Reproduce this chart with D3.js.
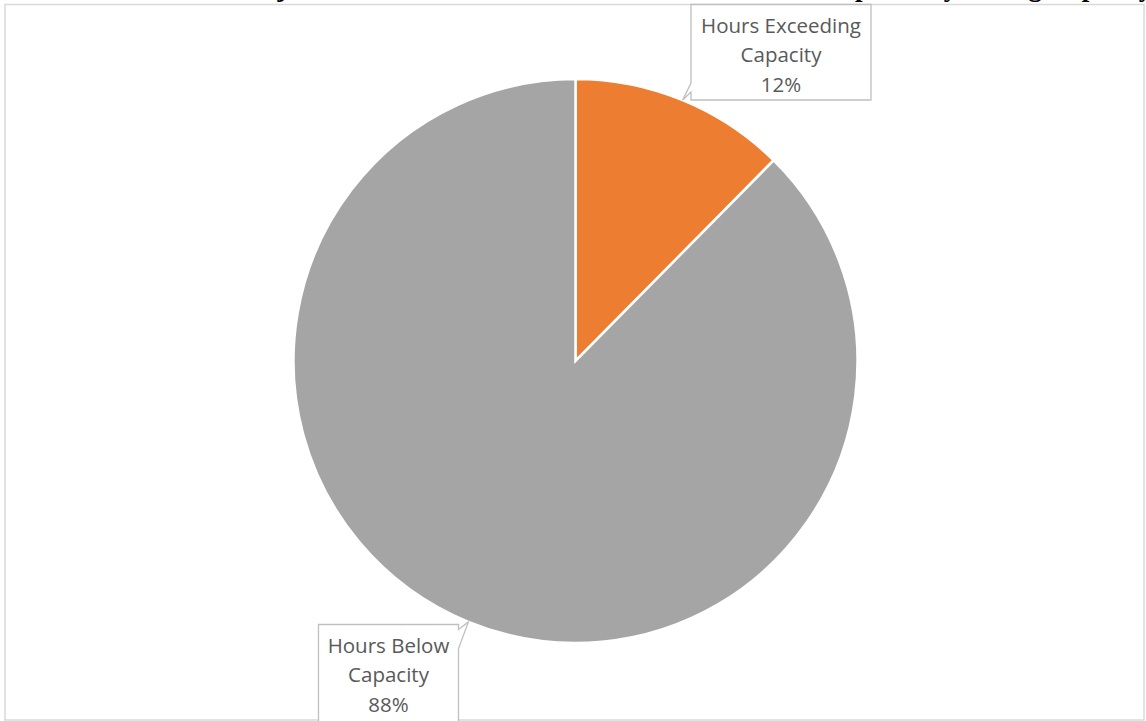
<!DOCTYPE html>
<html>
<head>
<meta charset="utf-8">
<script src="https://cdn.jsdelivr.net/npm/d3@7"></script>
<style>
    html, body { margin: 0; padding: 0; background: #ffffff; overflow: hidden; }
</style>
</head>
<body>
<script>
// 数据
const categories = ['Hours Exceeding Capacity', 'Hours Below Capacity'];
const shares = [0.124, 0.876];
const labelNames = [['Hours Exceeding', 'Capacity'], ['Hours Below', 'Capacity']];
const sliceColors = ['#ED7D31', '#A5A5A5'];
const titleText = 'Share of Hours Projected Demand Exceeds the Counted Volume Compared by Rating Capacity';

const svgWidth = 1146, svgHeight = 721;
const cx = 575.5, cy = 361, radius = 282;

const svg = d3.select('body')
    .append('svg')
    .attr('width', svgWidth)
    .attr('height', svgHeight);

// 标题（被图框上沿截掉，只露出下伸部分）
const title = svg.append('text')
    .attr('x', 0)
    .attr('y', -4)
    .style('font-family', '"Liberation Serif", "Times New Roman", serif')
    .style('font-weight', 'bold')
    .style('font-size', '27px')
    .style('fill', '#000000')
    .text(titleText);
// 把 "j" 对到原图中的位置
const jIdx = titleText.indexOf('j');
const jBox = title.node().getExtentOfChar(jIdx);
title.attr('x', 282 - (jBox.x + jBox.width / 2));

// 图框
svg.append('rect')
    .attr('x', 5)
    .attr('y', 4.5)
    .attr('width', 1139)
    .attr('height', 715.5)
    .attr('fill', 'none')
    .attr('stroke', '#d9d9d9')
    .attr('stroke-width', 1.5);

const data = categories.map((c, i) => ({name: c, value: shares[i], lines: labelNames[i], color: sliceColors[i]}));

const pie = d3.pie().sort(null).value(d => d.value);
const arcs = pie(data);
const arc = d3.arc().innerRadius(0).outerRadius(radius);

const pieG = svg.append('g').attr('transform', `translate(${cx},${cy})`);
pieG.selectAll('path')
    .data(arcs)
    .enter()
    .append('path')
    .attr('d', arc)
    .attr('fill', d => d.data.color)
    .attr('stroke', '#ffffff')
    .attr('stroke-width', 2.5)
    .attr('stroke-linejoin', 'miter');

// 标签框布局
const boxes = [
    {x: 691, y: 4.5, w: 180, h: 95.5, side: 'left'},
    {x: 318.5, y: 624.5, w: 140, h: 100, side: 'right'}
];
const fmt = d3.format('.0%');

const labelG = svg.append('g');
arcs.forEach((a, i) => {
    const b = boxes[i];
    const mid = (a.startAngle + a.endAngle) / 2;
    const tx = cx + radius * Math.sin(mid);
    const ty = cy - radius * Math.cos(mid);
    let p;
    if (b.side === 'left') {
        p = `M${b.x},${b.y} H${b.x + b.w} V${b.y + b.h} H${b.x} V${b.y + b.h - 8} L${tx},${ty} L${b.x},${b.y + b.h - 17} Z`;
    } else {
        p = `M${b.x},${b.y} H${b.x + b.w} V${b.y + 5} L${tx},${ty} L${b.x + b.w},${b.y + 24} V${b.y + b.h} H${b.x} Z`;
    }
    labelG.append('path')
        .attr('d', p)
        .attr('fill', '#ffffff')
        .attr('stroke', '#bfbfbf')
        .attr('stroke-width', 1.3);

    const lines = a.data.lines.concat([fmt(a.data.value)]);
    const t = labelG.append('text')
        .attr('text-anchor', 'middle')
        .style('font-family', '"Open Sans", sans-serif')
        .style('font-size', '20.5px')
        .style('fill', '#595959');
    lines.forEach((l, j) => {
        t.append('tspan')
            .attr('x', b.x + b.w / 2)
            .attr('y', b.y + 28 + j * 29.5)
            .text(l);
    });
});
</script>
</body>
</html>
